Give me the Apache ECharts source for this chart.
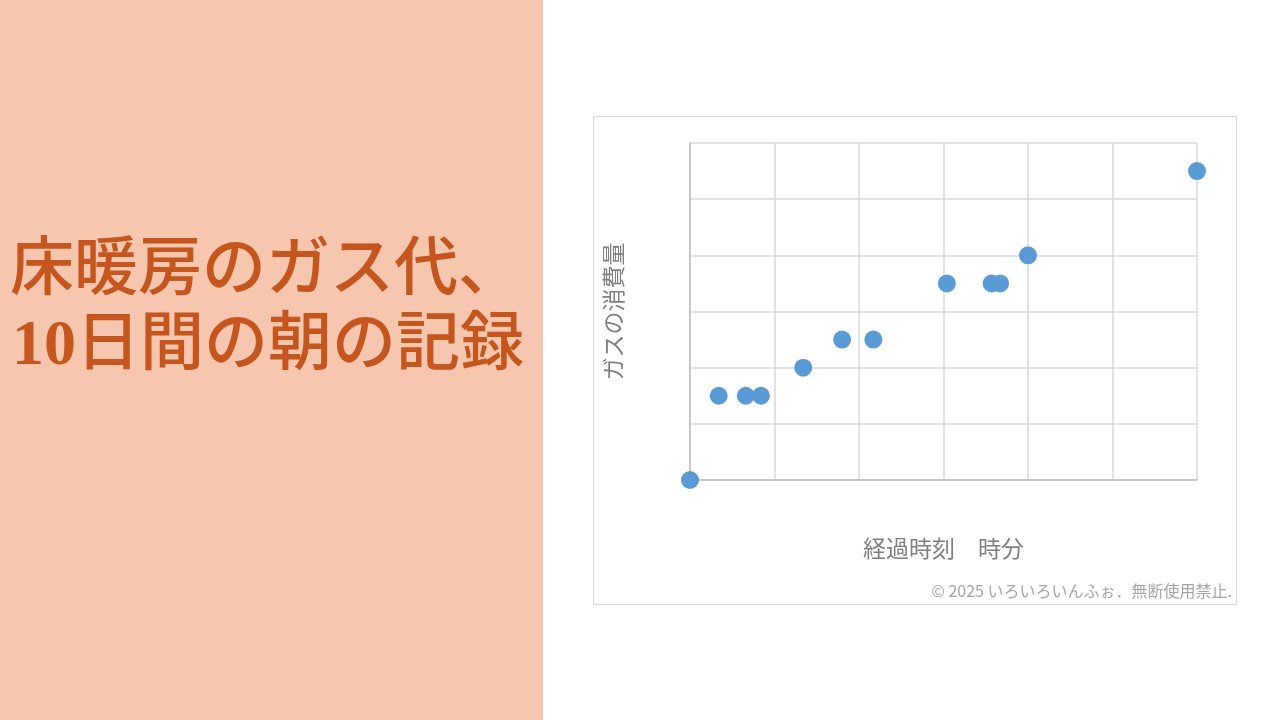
<!DOCTYPE html>
<html>
<head>
<meta charset="utf-8">
<script src="https://cdn.jsdelivr.net/npm/echarts@6/dist/echarts.min.js"></script>
<style>
html,body{margin:0;padding:0;background:#ffffff;}
#chart{width:1280px;height:720px;}
</style>
</head>
<body>
<div id="chart"></div>
<script>
// Data (axis units = grid cells)
const elapsedTime = [0, 0.34, 0.66, 0.84, 1.34, 1.80, 2.17, 3.04, 3.57, 3.67, 4.0, 6.0];
const gasUsage    = [0, 1.5, 1.5, 1.5, 2.0, 2.5, 2.5, 3.5, 3.5, 3.5, 4.0, 5.5];
const titleLines  = ['床暖房のガス代、', '10日間の朝の記録'];
const xAxisName   = '経過時刻　時分';
const yAxisName   = 'ガスの消費量';
const copyright   = '© 2025 いろいろいんふぉ．無断使用禁止.';

const points = elapsedTime.map((t, i) => [t, gasUsage[i]]);
const jpSans = '"Noto Sans CJK JP", "Noto Sans", sans-serif';
const jpSerif = '"Liberation Serif", "DejaVu Serif", "Noto Sans CJK JP", serif';

// digits in bold serif, the rest in CJK
function toRich(s) {
  return s.replace(/(\d+)/g, '{d|$1}').split(/(\{d\|\d+\})/).map(p => p.startsWith('{d|') ? p : (p ? '{c|' + p + '}' : '')).join('');
}
const titleRich = {
  d: {fontFamily: '"Liberation Serif", serif', fontWeight: 'bold', fontSize: 64, fill: '#C4561E', color: '#C4561E'},
  c: {fontFamily: jpSerif, fontWeight: 500, fontSize: 64, fill: '#C4561E', color: '#C4561E'}
};

const chart = echarts.init(document.getElementById('chart'), null, {renderer: 'canvas'});
chart.setOption({
  animation: false,
  backgroundColor: '#ffffff',
  graphic: [
    {type: 'rect', shape: {x: 0, y: 0, width: 543, height: 720}, style: {fill: '#F7C6AE'}, z: -10},
    {type: 'rect', shape: {x: 593.5, y: 116.5, width: 643, height: 488}, style: {fill: 'none', stroke: '#d9d9d9', lineWidth: 1}, z: -5},
    {type: 'text', x: 10, y: 272, style: {text: toRich(titleLines[0]), rich: titleRich, fill: '#C4561E', textVerticalAlign: 'middle'}},
    {type: 'text', x: 12, y: 347, style: {text: toRich(titleLines[1]), rich: titleRich, fill: '#C4561E', textVerticalAlign: 'middle'}},
    {type: 'text', x: 1232, y: 591, style: {text: copyright, font: '16px ' + jpSans, fill: '#a6a6a6', textAlign: 'right', textVerticalAlign: 'middle'}}
  ],
  grid: {left: 690, top: 143, right: 83, bottom: 240, containLabel: false},
  xAxis: {
    type: 'value', min: 0, max: 6, interval: 1,
    name: xAxisName, nameLocation: 'middle', nameGap: 57,
    nameTextStyle: {color: '#7f7f7f', fontSize: 23, fontFamily: jpSans},
    axisLine: {show: true, lineStyle: {color: '#bfbfbf', width: 1.5}},
    axisTick: {show: false}, axisLabel: {show: false},
    splitLine: {show: true, lineStyle: {color: '#d9d9d9', width: 1.5}}
  },
  yAxis: {
    type: 'value', min: 0, max: 6, interval: 1,
    name: yAxisName, nameLocation: 'middle', nameGap: 65,
    nameTextStyle: {color: '#7f7f7f', fontSize: 23, fontFamily: jpSans},
    axisLine: {show: true, lineStyle: {color: '#bfbfbf', width: 1.5}},
    axisTick: {show: false}, axisLabel: {show: false},
    splitLine: {show: true, lineStyle: {color: '#d9d9d9', width: 1.5}}
  },
  series: [{
    type: 'scatter', data: points, symbol: 'circle', symbolSize: 18, clip: false,
    itemStyle: {color: '#5B9BD5', opacity: 1}
  }]
});
</script>
</body>
</html>
